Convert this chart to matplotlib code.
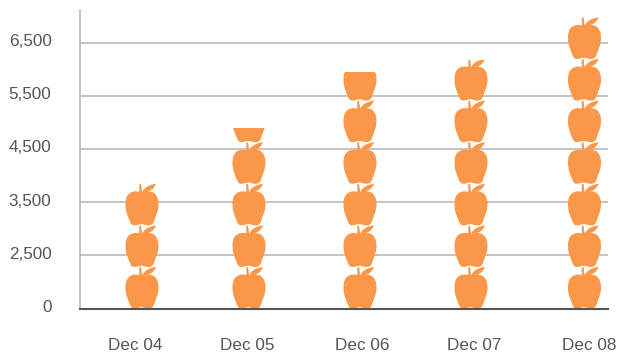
import matplotlib
matplotlib.use("Agg")
import matplotlib.pyplot as plt
from matplotlib.path import Path
from matplotlib.patches import PathPatch
from matplotlib.transforms import Affine2D, ScaledTranslation

categories = ["Dec 04", "Dec 05", "Dec 06", "Dec 07", "Dec 08"]
values = [3840, 4890, 5940, 6180, 6970]
tick_values = [1500, 2500, 3500, 4500, 5500, 6500]
tick_labels = ["0", "2,500", "3,500", "4,500", "5,500", "6,500"]

W, H = 620, 359
BASE_PX, GRID_STEP_PX = 308.5, 53.2
AX_L, AX_R, AX_T = 80, 608, 10
APPLE_PERIOD = 41.6
X_PX = [142, 249, 360, 471, 584.5]
LABEL_SHIFT_PX = [-6.5, -2, 2, 3, 5]
ORANGE, GREY = "#fa9748", "#555555"

plt.rcParams["font.family"] = ["Liberation Sans", "DejaVu Sans"]
fig = plt.figure(figsize=(W / 100, H / 100), dpi=100)
ax = fig.add_axes([AX_L / W, 1 - BASE_PX / H, (AX_R - AX_L) / W, (BASE_PX - AX_T) / H])

ax.set_ylim(1500, 1500 + (BASE_PX - AX_T) / GRID_STEP_PX * 1000)
ax.set_xlim(AX_L, AX_R)

# apple outline in pixels: origin at bottom centre, y upward
M, C4, L, Z = Path.MOVETO, Path.CURVE4, Path.LINETO, Path.CLOSEPOLY
body = [
    (-1, 33),
    (4, 34.5), (10, 34.5), (13, 31.5),
    (15.5, 29), (16.5, 25), (16.5, 21),
    (16.5, 14), (13.5, 9), (12, 4),
    (11, 1), (9, -0.5), (5, 0),
    (3, 0.2), (1, 1.4), (-1, 1.2),
    (-3, 1), (-5, 0), (-8, 0),
    (-10.5, 0), (-11.5, 2), (-12.5, 5),
    (-14, 9), (-16.5, 13), (-16.5, 21),
    (-16.5, 26), (-15.5, 29.5), (-13, 31.5),
    (-10, 34.5), (-5, 34.5), (-1, 33),
    (-1, 33),
]
stem = [(-2.6, 32), (-2.8, 41), (-1.0, 41.5), (0.3, 32), (-2.6, 32)]
leaf = [(0.3, 33.8), (2.5, 37.5), (6, 40.5), (14, 41.5), (12.5, 37), (8, 32.5), (0.3, 33.8), (0.3, 33.8)]
apple = Path(body + stem + leaf,
             [M] + [C4] * 30 + [Z] + [M, L, L, L, Z] + [M, C4, C4, C4, C4, C4, C4, Z])

bars = ax.bar(X_PX, [v - 1500 for v in values], bottom=1500,
              width=40, color="none", edgecolor="none", zorder=3)
fig.canvas.draw()
for xp, bar, v in zip(X_PX, bars, values):
    x0, y0 = ax.transData.transform((xp, 1500))
    x1, y1 = ax.transData.transform((xp, v))
    n = 0
    while n * APPLE_PERIOD < y1 - y0:
        tr = Affine2D().translate(x0, y0 + n * APPLE_PERIOD)
        patch = PathPatch(apple, transform=tr, facecolor=ORANGE, edgecolor="none", zorder=3)
        ax.add_patch(patch)
        patch.set_clip_path(bar)
        n += 1

ax.set_yticks(tick_values, tick_labels)
ax.set_xticks(X_PX, categories)
ax.yaxis.grid(True, color="#b4b4b4", linewidth=1.1, zorder=1)
ax.xaxis.grid(False)
ax.set_axisbelow(True)
ax.tick_params(axis="both", length=0, labelsize=12.3, labelcolor=GREY)
ax.tick_params(axis="y", pad=20.5)
ax.tick_params(axis="x", pad=21)
for lab, s in zip(ax.get_xticklabels(), LABEL_SHIFT_PX):
    lab.set_transform(lab.get_transform() + ScaledTranslation(s / 100, 0, fig.dpi_scale_trans))
for lab in ax.get_yticklabels():
    lab.set_transform(lab.get_transform() + ScaledTranslation(0, 2.5 / 100, fig.dpi_scale_trans))
for s in ("top", "right"):
    ax.spines[s].set_visible(False)
ax.spines["left"].set_color("#b4b4b4")
ax.spines["left"].set_linewidth(1.1)
ax.spines["bottom"].set_color(GREY)
ax.spines["bottom"].set_linewidth(1.5)
ax.spines["bottom"].set_zorder(5)
fig.savefig("out.png", dpi=100)
